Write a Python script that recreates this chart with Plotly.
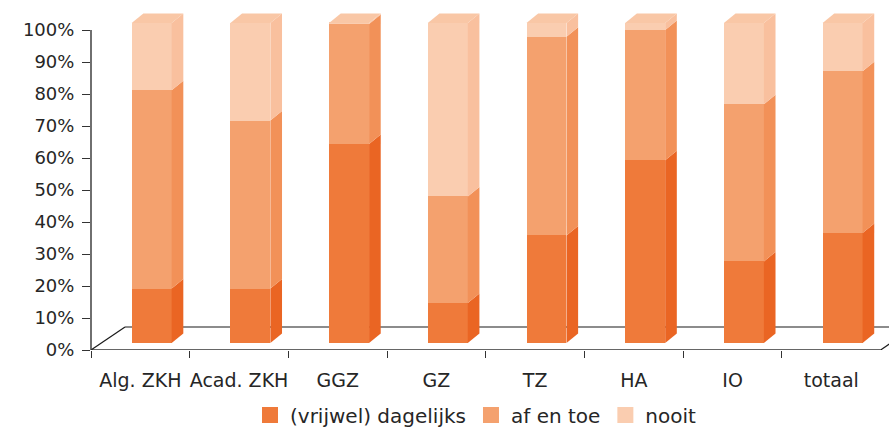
import plotly.graph_objects as go

# ---------------- data ----------------
categories = ["Alg. ZKH", "Acad. ZKH", "GGZ", "GZ", "TZ", "HA", "IO", "totaal"]
dagelijks = [17.0, 17.0, 62.2, 12.5, 33.6, 57.1, 25.5, 34.4]
af_en_toe = [62.0, 52.5, 37.5, 33.3, 62.1, 40.7, 49.1, 50.5]
nooit = [21.0, 30.5, 0.3, 54.2, 4.3, 2.2, 25.4, 15.1]
series_names = ["(vrijwel) dagelijks", "af en toe", "nooit"]
y_ticks = [0, 10, 20, 30, 40, 50, 60, 70, 80, 90, 100]
y_tick_labels = [f"{v}%" for v in y_ticks]

# ---------------- style ----------------
front_cols = ["#EF7A3A", "#F4A16E", "#FACDB0"]
side_cols = ["#EA6523", "#F29158", "#F9C09E"]
top_col = "#F9C7A6"
FONT = "DejaVu Sans"
TXT = "#262626"

# pseudo-3D geometry (in axis units)
BAR_W = 0.405          # front face width (category units)
BAR_OFF = -0.0877      # front face left edge relative to category centre
BASE_LIFT = 2.19       # front face bottom above floor front edge (%)
DX, DY = 0.118, 2.97   # bar depth projection
FLOOR_DX, FLOOR_DY = 0.3447, 7.19
X_MAX = 7.585

series = [dagelijks, af_en_toe, nooit]
n = len(categories)
xs = list(range(n))

fig = go.Figure()
shapes = []

# floor (drawn below bars)
line_style = dict(color="#1a1a1a", width=1.2)
shapes.append(dict(type="line", xref="x", yref="y", x0=-0.5, y0=0, x1=7.5, y1=0,
                   line=dict(color="#333333", width=1.6), layer="below"))
shapes.append(dict(type="line", xref="x", yref="y", x0=-0.5, y0=0,
                   x1=-0.5 + FLOOR_DX, y1=FLOOR_DY, line=line_style, layer="below"))
shapes.append(dict(type="line", xref="x", yref="y", x0=-0.5 + FLOOR_DX, y0=FLOOR_DY,
                   x1=X_MAX + 1, y1=FLOOR_DY, line=line_style, layer="below"))
shapes.append(dict(type="line", xref="x", yref="y", x0=7.5, y0=0,
                   x1=7.5 + FLOOR_DX, y1=FLOOR_DY, line=line_style, layer="below"))

# y axis line
shapes.append(dict(type="line", xref="paper", yref="y", x0=0, y0=0, x1=0, y1=100,
                   line=dict(color="#333333", width=1.4), layer="above"))

cum = [BASE_LIFT] * n
for si, vals in enumerate(series):
    bases = list(cum)
    fig.add_trace(go.Bar(
        x=xs, y=vals, base=bases, width=BAR_W, offset=BAR_OFF,
        name=series_names[si], legendgroup=series_names[si], showlegend=False,
        marker=dict(color=front_cols[si], line=dict(width=0)),
        hovertemplate="%{y:.1f}%<extra>" + series_names[si] + "</extra>",
    ))
    for k in range(n):
        b = bases[k]
        t = b + vals[k]
        xr = k + BAR_OFF + BAR_W
        path = (f"M {xr},{b} L {xr + DX},{b + DY} L {xr + DX},{t + DY} "
                f"L {xr},{t} Z")
        shapes.append(dict(type="path", xref="x", yref="y", path=path,
                           fillcolor=side_cols[si], line=dict(width=0), layer="above"))
        cum[k] = t

# legend entries (square swatches like the reference)
for si, name in enumerate(series_names):
    fig.add_trace(go.Scatter(
        x=[None], y=[None], mode="markers", name=name, legendgroup=name,
        marker=dict(symbol="square", size=16, color=front_cols[si]),
        hoverinfo="skip",
    ))

# top faces (top of stack)
for k in range(n):
    t = cum[k]
    xl = k + BAR_OFF
    xr = xl + BAR_W
    path = (f"M {xl},{t} L {xl + DX},{t + DY} L {xr + DX},{t + DY} L {xr},{t} Z")
    shapes.append(dict(type="path", xref="x", yref="y", path=path,
                       fillcolor=top_col, line=dict(width=0), layer="above"))

fig.update_layout(
    width=889, height=428,
    margin=dict(l=91, r=0, t=10, b=78),
    paper_bgcolor="white", plot_bgcolor="white",
    barmode="overlay",
    bargap=0,
    shapes=shapes,
    font=dict(family=FONT, size=19, color=TXT),
    showlegend=True,
    legend=dict(orientation="h", xref="container", yref="container",
                x=250 / 889, xanchor="left",
                y=1 - 415 / 428, yanchor="middle",
                font=dict(family=FONT, size=20, color=TXT),
                traceorder="normal", itemwidth=30, bgcolor="rgba(0,0,0,0)"),
    xaxis=dict(range=[-0.5, X_MAX], tickmode="array", tickvals=xs, ticktext=categories,
               ticks="", showgrid=False, zeroline=False, showline=False,
               automargin=False, ticklabelstandoff=17,
               tickfont=dict(family=FONT, size=19, color=TXT),
               minor=dict(tickmode="array", tickvals=[k - 0.5 for k in range(n)],
                          ticks="outside", ticklen=7, tickwidth=1.4,
                          tickcolor="#333333", showgrid=False)),
    yaxis=dict(range=[0, 106.25], tickmode="array", tickvals=y_ticks,
               ticktext=y_tick_labels, ticks="outside", ticklen=8, tickwidth=1.4,
               tickcolor="#333333", showgrid=False, zeroline=False, showline=False,
               automargin=False, ticklabelstandoff=4,
               tickfont=dict(family=FONT, size=18, color=TXT)),
)

fig.write_html("out.html", config={"displayModeBar": False},
               post_script="document.body.style.margin='0';")
